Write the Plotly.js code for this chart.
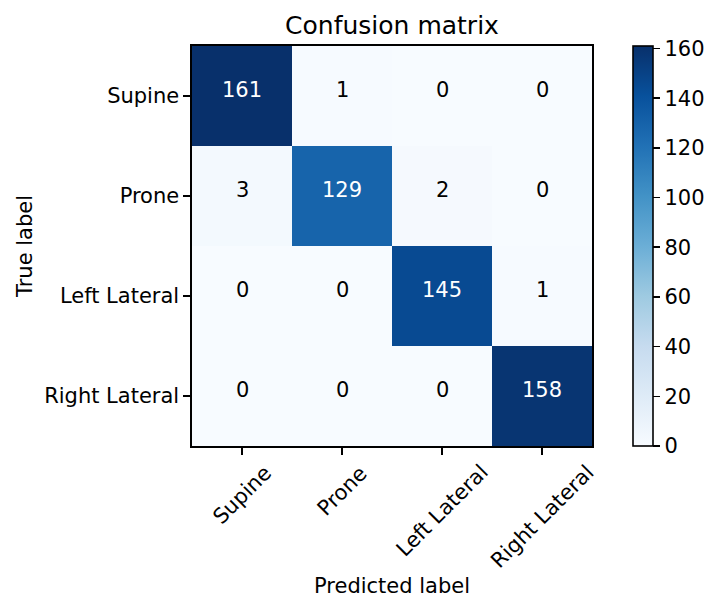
<!DOCTYPE html>
<html>
<head>
<meta charset="utf-8">
<script src="https://cdn.plot.ly/plotly-3.0.1.min.js"></script>
<style>
  html, body { margin: 0; padding: 0; background: #fff; }
</style>
</head>
<body>
<div id="myGraph" style="width:722px;height:613px;"></div>
<script>
// class names (rows = true label, columns = predicted label)
let classes = ['Supine', 'Prone', 'Left Lateral', 'Right Lateral'];

// confusion matrix counts
let rowSupine = [161, 1, 0, 0];
let rowProne = [3, 129, 2, 0];
let rowLeft = [0, 0, 145, 1];
let rowRight = [0, 0, 0, 158];

let cbTicks = [0, 20, 40, 60, 80, 100, 120, 140, 160];

let z = [rowSupine, rowProne, rowLeft, rowRight];
let zMax = Math.max.apply(null, z.map(function (r) { return Math.max.apply(null, r); }));
let thresh = zMax / 2;

// matplotlib "Blues"
let blues = ['#f7fbff', '#deebf7', '#c6dbef', '#9ecae1', '#6baed6', '#4292c6', '#2171b5', '#08519c', '#08306b'];
let colorscale = blues.map(function (c, i) { return [i / (blues.length - 1), c]; });

let font = 'DejaVu Sans, sans-serif';
let fs = 21;

let trace1 = {
    type: 'heatmap',
    x: classes,
    y: classes,
    z: z,
    zmin: 0,
    zmax: zMax,
    colorscale: colorscale,
    hoverinfo: 'skip',
    colorbar: {
        x: 1.1025,
        xanchor: 'left',
        xpad: 0,
        ypad: 0,
        y: 0.5,
        yanchor: 'middle',
        len: 1,
        thickness: 20,
        outlinecolor: '#000',
        outlinewidth: 1.6,
        tickmode: 'array',
        tickvals: cbTicks,
        ticktext: cbTicks.map(String),
        ticks: 'outside',
        ticklen: 7,
        tickwidth: 1.6,
        tickcolor: '#000',
        tickfont: { family: font, size: fs, color: '#000' }
    }
};

// cell numbers
let annotations = [];
z.forEach(function (row, i) {
    row.forEach(function (v, j) {
        annotations.push({
            x: classes[j],
            y: classes[i],
            xref: 'x',
            yref: 'y',
            yshift: 6,
            text: String(v),
            showarrow: false,
            font: { family: font, size: fs, color: v > thresh ? '#fff' : '#000' }
        });
    });
});

// x tick labels, rotated 45 and centred under the tick (matplotlib style)
classes.forEach(function (c) {
    annotations.push({
        x: c,
        y: 0,
        xref: 'x',
        yref: 'paper',
        yshift: -12,
        text: c,
        textangle: -45,
        xanchor: 'center',
        yanchor: 'top',
        showarrow: false,
        font: { family: font, size: fs, color: '#000' }
    });
});

// x axis title
annotations.push({
    x: 0.5,
    y: 0,
    xref: 'paper',
    yref: 'paper',
    yshift: -140,
    text: 'Predicted label',
    xanchor: 'center',
    yanchor: 'middle',
    showarrow: false,
    font: { family: font, size: fs, color: '#000' }
});

let axisStyle = {
    showgrid: false,
    zeroline: false,
    showline: true,
    mirror: true,
    linecolor: '#000',
    linewidth: 1.6,
    ticks: 'outside',
    ticklen: 7,
    tickwidth: 1.6,
    tickcolor: '#000',
    tickfont: { family: font, size: fs, color: '#000' },
    fixedrange: true
};

let layout = {
    width: 722,
    height: 613,
    margin: { l: 192, r: 130, t: 46, b: 167 },
    paper_bgcolor: '#fff',
    plot_bgcolor: '#fff',
    font: { family: font, color: '#000' },
    title: {
        text: 'Confusion matrix',
        font: { family: font, size: 25, color: '#000' },
        x: 0.5,
        xref: 'paper',
        xanchor: 'center',
        y: 1 - 25 / 613,
        yref: 'container',
        yanchor: 'middle'
    },
    xaxis: Object.assign({}, axisStyle, {
        type: 'category',
        autorange: false,
        range: [-0.5, classes.length - 0.5],
        showticklabels: false
    }),
    yaxis: Object.assign({}, axisStyle, {
        type: 'category',
        autorange: false,
        range: [classes.length - 0.5, -0.5],
        title: { text: 'True label', font: { family: font, size: fs, color: '#000' }, standoff: 6 }
    }),
    annotations: annotations,
    showlegend: false
};

Plotly.newPlot('myGraph', [trace1], layout, { displayModeBar: false, staticPlot: true });
</script>
</body>
</html>
